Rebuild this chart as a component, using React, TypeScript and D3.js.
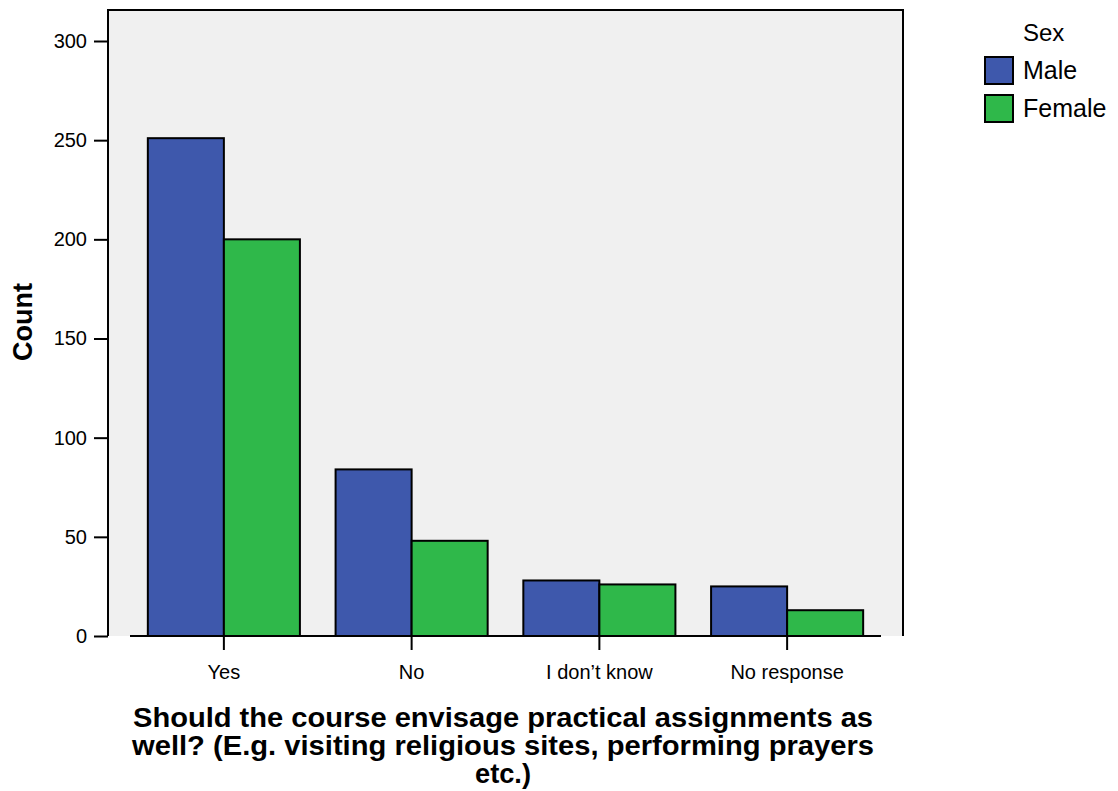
import React, { useEffect, useRef } from "react";
import * as d3 from "d3";

const categories = ["Yes", "No", "I don\u2019t know", "No response"];
const seriesNames = ["Male", "Female"];
const maleCounts = [251, 84, 28, 25];
const femaleCounts = [200, 48, 26, 13];
const yTicks = [0, 50, 100, 150, 200, 250, 300];
const titleLines = [
  "Should the course envisage practical assignments as",
  "well? (E.g. visiting religious sites, performing prayers",
  "etc.)",
];
const titleWidths = [740, 742, 56];
const colors = ["#3e58ac", "#2fb84a"];

const App: React.FC = () => {
  const svgRef = useRef<SVGSVGElement | null>(null);

  useEffect(() => {
    if (!svgRef.current) return;
    const svg = d3.select(svgRef.current);
    svg.selectAll("*").remove();

    const font = "Arial, 'Liberation Sans', sans-serif";
    // plot frame
    const frame = { left: 108, right: 903, top: 10, bottom: 636 };

    const y = d3.scaleLinear().domain([0, 300]).range([636, 41]);
    const x = d3.scaleBand<string>().domain(categories).range([130, 881]).paddingInner(0.19).paddingOuter(0.095);
    const xs = d3.scaleBand<string>().domain(seriesNames).range([0, x.bandwidth()]);

    svg.append("rect")
      .attr("x", frame.left).attr("y", frame.top)
      .attr("width", frame.right - frame.left).attr("height", frame.bottom - frame.top)
      .attr("fill", "#f0f0f0");

    // frame lines (no bottom)
    svg.append("path")
      .attr("d", `M${frame.left},${frame.bottom}V${frame.top}H${frame.right}V${frame.bottom}`)
      .attr("fill", "none").attr("stroke", "#000").attr("stroke-width", 2);

    const rows = categories.map((c, i) => ({ cat: c, values: [maleCounts[i], femaleCounts[i]] }));

    const groups = svg.selectAll("g.cat").data(rows).enter().append("g")
      .attr("transform", (d) => `translate(${x(d.cat)},0)`);
    groups.selectAll("rect").data((d) => d.values.map((v, j) => ({ v, s: seriesNames[j], j })))
      .enter().append("rect")
      .attr("x", (d) => xs(d.s)!)
      .attr("width", xs.bandwidth())
      .attr("y", (d) => y(d.v))
      .attr("height", (d) => y(0) - y(d.v))
      .attr("fill", (d) => colors[d.j])
      .attr("stroke", "#000").attr("stroke-width", 2);

    // baseline
    svg.append("line")
      .attr("x1", 130).attr("x2", 881).attr("y1", y(0)).attr("y2", y(0))
      .attr("stroke", "#000").attr("stroke-width", 2);

    // y axis
    const yAxis = svg.append("g").attr("transform", `translate(${frame.left},0)`)
      .call(d3.axisLeft(y).tickValues(yTicks).tickSize(14).tickPadding(7));
    yAxis.select(".domain").remove();
    yAxis.selectAll(".tick line").attr("stroke-width", 2);
    yAxis.selectAll("text").attr("font-size", 20).attr("font-family", font).attr("fill", "#000");

    // x axis
    const xAxis = svg.append("g").attr("transform", `translate(0,${y(0)})`)
      .call(d3.axisBottom(x).tickSize(14).tickPadding(15));
    xAxis.select(".domain").remove();
    xAxis.selectAll(".tick line").attr("stroke-width", 2);
    xAxis.selectAll("text").attr("font-size", 20).attr("font-family", font).attr("fill", "#000");

    // y title
    svg.append("text")
      .attr("transform", "translate(32,322) rotate(-90)")
      .attr("text-anchor", "middle")
      .attr("font-family", font).attr("font-weight", "bold").attr("font-size", 27)
      .text("Count");

    // x title (narrow bold look via glyph compression)
    svg.append("g").selectAll("text").data(titleLines).enter().append("text")
      .attr("x", 503).attr("y", (_, i) => 727 + i * 28)
      .attr("text-anchor", "middle")
      .attr("font-family", font)
      .attr("font-weight", "bold").attr("font-size", 27)
      .attr("textLength", (_, i) => titleWidths[i])
      .attr("lengthAdjust", "spacingAndGlyphs")
      .text((d) => d);

    // legend
    const legend = svg.append("g");
    legend.append("text").attr("x", 1023).attr("y", 41)
      .attr("font-family", font).attr("font-size", 24).text("Sex");
    const items = legend.selectAll("g.item").data(seriesNames).enter().append("g")
      .attr("transform", (_, i) => `translate(985,${57 + i * 38})`);
    items.append("rect").attr("width", 28).attr("height", 27)
      .attr("fill", (_, i) => colors[i]).attr("stroke", "#000").attr("stroke-width", 2);
    items.append("text").attr("x", 38).attr("y", 22)
      .attr("font-family", font).attr("font-size", 25).text((d) => d);
  }, []);

  return (
    <svg ref={svgRef} width={1118} height={791} style={{ position: "absolute", left: 0, top: 0, background: "#fff" }} />
  );
};

export default App;
